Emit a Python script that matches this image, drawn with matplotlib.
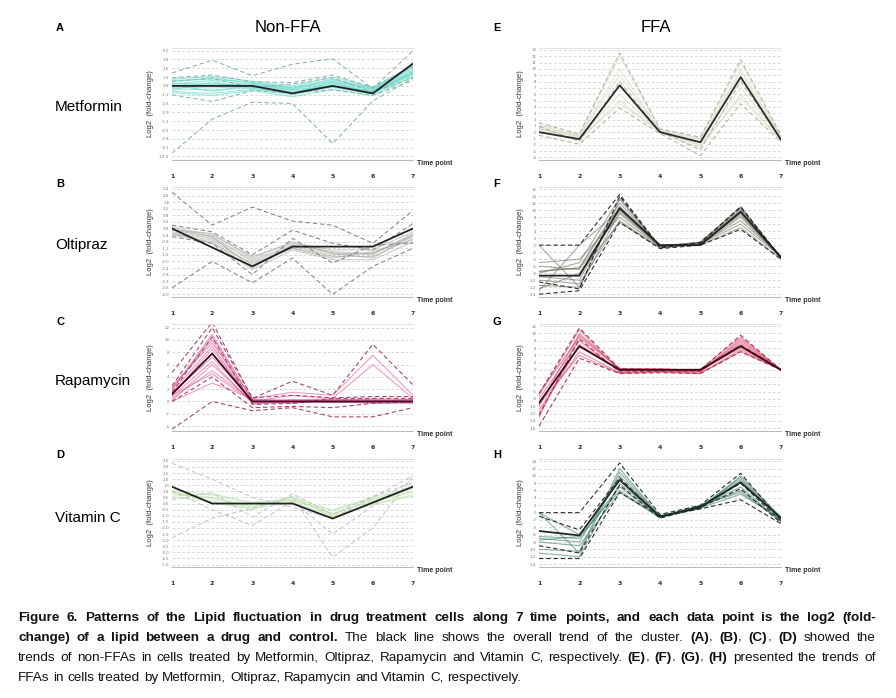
import numpy as np
import matplotlib
matplotlib.use("Agg")
import matplotlib.pyplot as plt

time_points = [1, 2, 3, 4, 5, 6, 7]
drugs = ["Metformin", "Oltipraz", "Rapamycin", "Vitamin C"]

# ---------- Non-FFA panels ----------
A_trend = [0.0, 0.0, 0.0, -1.1, 0.0, -1.1, 3.3]
A_bundle = [
    [0.3, 0.8, 0.2, -0.5, 0.6, -0.6, 2.2],
    [-0.4, -0.6, -0.3, -1.0, 0.2, -1.0, 1.8],
    [0.6, 1.2, 0.4, -0.3, 0.9, -0.4, 2.6],
    [-0.8, -1.1, -0.5, -1.3, -0.2, -1.2, 1.5],
    [0.1, 0.4, 0.0, -0.7, 0.4, -0.8, 2.0],
    [0.4, 0.2, 0.3, -0.4, 0.7, -0.5, 2.4],
    [-0.2, -0.3, -0.1, -0.9, 0.1, -0.9, 1.7],
    [0.8, 1.0, 0.5, -0.2, 1.0, -0.3, 2.8],
    [-0.6, 0.6, -0.4, -1.1, 0.5, -1.1, 2.1],
    [0.2, -0.8, 0.1, -0.6, -0.1, -0.7, 1.9],
    [1.0, 1.4, 0.7, 0.0, 1.3, -0.2, 3.0],
    [-1.0, -1.4, -0.7, -1.6, -0.5, -1.4, 1.3],
]
A_dashed = [
    [1.9, 3.8, 1.5, 3.2, 4.0, -0.4, 5.2],
    [-9.9, -4.9, -2.4, -2.6, -8.5, -2.2, 1.1],
    [1.2, 1.6, 0.6, 0.5, 1.6, -0.2, 2.9],
    [-1.3, -2.3, -0.7, -1.0, -0.6, -1.4, 0.8],
    [0.7, 1.1, -0.2, 0.3, 1.2, -0.9, 1.2],
]
A_ticks = [5.2, 3.9, 2.6, 1.3, 0.0, -1.3, -2.6, -3.9, -5.2, -6.5, -7.8, -9.1, -10.4]

B_trend = [0.0, -1.15, -2.3, -1.1, -1.1, -1.1, 0.0]
B_bundle = [
    [-0.1, -0.5, -1.9, -1.0, -1.5, -1.5, -0.4],
    [-0.3, -0.7, -2.2, -1.2, -1.7, -1.7, -0.6],
    [0.1, -0.4, -1.7, -0.9, -1.3, -1.3, -0.2],
    [-0.4, -0.8, -2.5, -1.3, -1.9, -1.9, -0.8],
    [-0.2, -0.6, -2.0, -1.1, -1.6, -1.5, -0.5],
    [0.0, -0.5, -2.4, -1.0, -1.4, -1.6, -0.3],
    [-0.3, -0.9, -2.1, -1.2, -1.8, -1.4, -0.7],
    [-0.1, -0.3, -1.8, -0.8, -1.5, -1.8, -0.4],
]
B_dashed = [
    [2.2, 0.2, 1.3, 0.45, 0.2, -0.9, 1.1],
    [-3.6, -2.0, -3.3, -1.8, -4.0, -2.3, -1.2],
    [0.2, -0.2, -1.6, -0.1, -0.9, -1.3, 0.3],
    [-0.5, -0.9, -2.8, -0.6, -2.1, -1.0, -0.9],
]
B_ticks = [2.4, 2.0, 1.6, 1.2, 0.8, 0.4, 0.0, -0.4, -0.8, -1.2, -1.6, -2.0, -2.4, -2.8, -3.2, -3.6, -4.0]

C_trend = [1.2, 7.8, 0.0, 0.0, 0.0, 0.0, 0.0]
C_bundle = [
    [0.5, 5.0, 0.2, 0.1, 0.3, 0.2, 0.1],
    [1.5, 9.0, -0.2, 0.0, -0.1, 0.0, -0.2],
    [2.0, 10.5, 0.3, 0.2, 0.2, 0.4, 0.3],
    [0.8, 6.5, -0.3, -0.2, 0.1, -0.1, 0.0],
    [1.8, 11.0, 0.1, 0.3, 0.4, 0.1, 0.2],
    [1.0, 8.5, 0.0, -0.1, 0.0, 0.3, -0.1],
    [2.5, 9.5, 0.4, 0.0, 0.2, -0.2, 0.4],
    [0.2, 6.0, -0.1, 0.2, -0.2, 0.0, 0.1],
    [1.3, 7.2, 0.2, -0.3, 0.3, 0.2, 0.3],
    [2.2, 10.0, -0.4, 0.1, 0.0, -0.3, -0.3],
    [0.0, 3.0, 0.5, 1.5, 1.0, 7.5, 1.0],
    [1.0, 4.5, 0.0, 1.0, 0.5, 6.0, 0.5],
]
C_dashed = [
    [4.7, 12.9, 0.5, 3.3, 1.0, 9.3, 2.7],
    [-4.5, 0.0, -1.5, -1.0, -2.5, -2.5, -1.0],
    [0.0, 4.0, -1.0, -0.8, -1.0, -0.3, 0.0],
    [2.5, 12.0, 0.6, 1.0, 0.6, 0.8, 0.8],
    [1.5, 10.5, -0.5, -0.3, 0.5, 0.5, 0.5],
]
C_ticks = [12, 10, 8, 6, 4, 2, 0, -2, -4]

D_trend = [1.38, 0.0, 0.0, 0.0, -1.23, 0.08, 1.38]
D_bundle = [
    [0.8, 0.5, -0.2, 0.3, -0.8, 0.2, 0.9],
    [1.1, 0.7, 0.0, 0.5, -0.6, 0.4, 1.2],
    [0.5, 0.2, -0.4, 0.1, -1.0, 0.0, 0.7],
    [0.9, 0.4, -0.3, 0.4, -0.9, 0.3, 1.0],
    [0.6, 0.8, 0.1, 0.2, -0.5, 0.5, 1.4],
    [1.0, 0.1, -0.5, 0.6, -1.1, -0.1, 0.6],
]
D_dashed = [
    [3.3, 2.0, 0.5, -0.3, -1.2, 0.5, 2.3],
    [-2.8, -1.2, -0.4, 0.6, -4.4, -2.0, 2.3],
    [1.0, -0.5, -1.8, 0.2, -2.5, -0.2, 2.0],
    [0.3, 0.9, -1.1, 0.8, -0.9, 0.6, 1.7],
]
D_ticks = [3.5, 3.0, 2.5, 2.0, 1.5, 1.0, 0.5, 0.0, -0.5, -1.0, -1.5, -2.0, -2.5, -3.0, -3.5, -4.0, -4.5, -5.0]

# ---------- FFA panels ----------
E_trend = [0.0, -1.1, 7.4, 0.0, -1.6, 8.7, -1.2]
E_bundle = [
    [0.8, -0.6, 10.0, 0.2, -1.2, 10.0, -0.8],
    [0.5, -0.8, 6.0, 0.1, -2.0, 7.0, -1.0],
    [1.2, -0.5, 12.0, 0.4, -1.0, 11.0, -0.6],
    [0.3, -1.2, 5.0, 0.0, -2.5, 6.0, -1.3],
    [1.0, -0.7, 9.0, 0.3, -1.5, 9.5, -0.9],
    [0.6, -1.0, 4.5, 0.2, -2.2, 5.5, -1.4],
]
E_dashed = [
    [1.5, -0.3, 12.5, 0.5, -0.8, 11.5, -0.5],
    [-0.5, -1.9, 3.8, -0.2, -3.7, 4.5, -1.6],
    [0.9, -1.5, 8.0, 0.1, -2.8, 8.0, -1.1],
]
E_ticks = list(range(13, -5, -1))

F_trend = [-8.7, -8.7, 10.5, 0.0, 0.0, 9.5, -3.5]
F_bundle = [
    [-5.0, -4.0, 8.0, -0.5, 0.5, 7.0, -3.2],
    [-6.0, -7.0, 9.0, -0.3, 0.3, 8.0, -3.4],
    [-7.5, -6.5, 12.0, -0.2, 0.6, 10.0, -3.6],
    [-9.0, -10.0, 11.0, -0.6, 0.2, 9.0, -3.8],
    [-10.0, -11.0, 7.0, -0.8, 0.4, 6.0, -3.3],
    [-11.5, -12.0, 13.0, -0.4, 0.8, 11.0, -3.7],
    [-12.5, -8.0, 6.5, -0.7, 0.1, 5.0, -3.9],
    [0.0, -12.0, 9.5, -0.1, 0.7, 8.5, -3.5],
    [-13.0, 0.0, 10.0, -0.5, 0.5, 9.5, -3.2],
    [-8.0, -5.0, 13.5, -0.3, 0.9, 10.5, -3.6],
    [-7.5, -6.5, 11.0, 0.0, 0.3, 10.0, -3.3],
]
F_dashed = [
    [0.0, 0.0, 14.5, -0.5, 0.5, 11.0, -3.5],
    [-14.0, -13.0, 6.5, -1.0, 0.0, 4.5, -4.0],
    [-10.5, -12.5, 14.0, -0.8, 0.8, 10.8, -3.8],
]
F_ticks = list(range(16, -15, -2))

G_trend = [-9.1, 6.5, 0.0, 0.0, 0.0, 6.5, 0.0]
G_bundle = [
    [-6.5, 9.0, 0.3, 0.2, -0.3, 8.0, 0.0],
    [-8.0, 8.0, -0.4, -0.2, -0.6, 7.5, 0.0],
    [-10.0, 10.0, 0.2, 0.0, 0.1, 9.0, 0.0],
    [-11.0, 5.0, -0.8, -0.5, -0.9, 5.5, 0.0],
    [-12.0, 7.0, 0.0, 0.3, -0.2, 6.0, 0.0],
    [-7.0, 11.0, -0.2, -0.3, -0.5, 8.5, 0.0],
    [-9.5, 4.0, -1.0, -0.6, -1.0, 5.0, 0.0],
    [-13.0, 9.5, 0.4, 0.1, 0.2, 7.0, 0.0],
]
G_dashed = [
    [-15.5, 3.2, -1.0, -0.8, -1.0, 5.0, 0.0],
    [-6.5, 11.5, 0.3, 0.2, 0.0, 9.5, 0.0],
    [-12.5, 8.5, -0.6, -0.4, -0.3, 6.8, 0.0],
]
G_ticks = list(range(12, -17, -2))

H_trend = [-5.0, -6.2, 8.9, -1.1, 1.5, 8.3, -1.5]
H_bundle = [
    [0.0, -11.0, 11.0, -1.0, 1.5, 9.0, -1.5],
    [-6.5, -7.0, 7.0, -1.2, 1.8, 6.0, -2.0],
    [-7.0, -8.0, 10.0, -0.9, 1.2, 8.0, -1.8],
    [-7.5, -6.5, 6.0, -1.3, 2.0, 5.5, -2.2],
    [-10.0, -10.5, 12.0, -1.0, 1.0, 10.0, -1.2],
    [-11.0, -12.0, 8.0, -1.1, 1.6, 7.0, -2.5],
    [-8.0, -9.0, 5.5, -1.4, 1.3, 5.0, -1.6],
    [0.0, -6.0, 9.0, -0.8, 1.7, 9.5, -1.4],
]
H_dashed = [
    [0.0, 0.0, 13.5, -0.5, 2.0, 10.7, -2.0],
    [-12.5, -12.5, 5.5, -1.0, 1.0, 3.5, -3.0],
    [-1.0, -4.7, 9.5, -1.2, 1.8, 8.0, -2.3],
    [-9.0, -11.0, 7.5, -1.5, 1.4, 6.5, -2.8],
]
H_ticks = list(range(14, -15, -2))

W, H = 896, 698
fig = plt.figure(figsize=(W / 100, H / 100), dpi=100)

label_font = ["Liberation Sans", "DejaVu Sans"]
cap_font = ["Liberation Sans", "DejaVu Sans"]

rows_px = [(48, 160), (187, 297), (324, 431), (459, 567)]
cols_px = [(172, 413), (539, 781)]


def px_axes(col, row):
    x0, x1 = cols_px[col]
    y0, y1 = rows_px[row]
    return fig.add_axes([x0 / W, 1 - y1 / H, (x1 - x0) / W, (y1 - y0) / H])


def panel(ax, trend, bundle, dashed, ticks, fmt, bcol, dcol, tcol,
          balpha=0.6, dlw=0.8):
    for t in ticks:
        ax.axhline(t, color="#c8c8c8", lw=0.5, ls=(0, (4, 3)), zorder=0)
    for s in bundle:
        ax.plot(time_points, s, color=bcol, lw=0.8, alpha=balpha, zorder=1)
    for s in dashed:
        ax.plot(time_points, s, color=dcol, lw=dlw, ls=(0, (4, 2.5)), zorder=2)
    ax.plot(time_points, trend, color=tcol, lw=1.3, zorder=3)
    step = abs(ticks[0] - ticks[1])
    ax.set_ylim(min(ticks) - 0.4 * step, max(ticks) + 0.3 * step)
    ax.set_xlim(1, 7)
    ax.set_yticks(ticks)
    ax.set_yticklabels([fmt.format(t) for t in ticks], fontsize=2.8, color="#777777")
    ax.set_xticks(time_points)
    ax.set_xticklabels([str(t) for t in time_points], fontsize=4.5,
                       fontweight="bold", color="#333333")
    ax.tick_params(axis="both", length=0)
    ax.tick_params(axis="x", pad=10)
    ax.tick_params(axis="y", pad=2)
    for side in ["left", "right"]:
        ax.spines[side].set_visible(False)
    ax.spines["top"].set_color("#dddddd")
    ax.spines["top"].set_linewidth(0.6)
    ax.spines["bottom"].set_color("#bbbbbb")
    ax.spines["bottom"].set_linewidth(0.8)
    ax.text(1.015, -0.03, "Time point", transform=ax.transAxes, fontsize=5,
            fontweight="bold", color="#333333", ha="left", va="center",
            family=label_font)


configs = [
    (0, 0, A_trend, A_bundle, A_dashed, A_ticks, "{:.1f}", "#5ed6c8", "#8fb8b2", "#222222"),
    (0, 1, B_trend, B_bundle, B_dashed, B_ticks, "{:.1f}", "#a8a8a2", "#8a8a8a", "#222222"),
    (0, 2, C_trend, C_bundle, C_dashed, C_ticks, "{:d}", "#e45c98", "#a64a6a", "#3d0a22"),
    (0, 3, D_trend, D_bundle, D_dashed, D_ticks, "{:.1f}", "#b6e2a4", "#c8c8c8", "#222222"),
    (1, 0, E_trend, E_bundle, E_dashed, E_ticks, "{:d}", "#d4d4c0", "#b4b4a6", "#2a2a2a"),
    (1, 1, F_trend, F_bundle, F_dashed, F_ticks, "{:d}", "#6e7768", "#2e2e2e", "#222222"),
    (1, 2, G_trend, G_bundle, G_dashed, G_ticks, "{:d}", "#d84470", "#b03456", "#3a0a16"),
    (1, 3, H_trend, H_bundle, H_dashed, H_ticks, "{:d}", "#3f7e66", "#2e2e2e", "#1a2a22"),
]

for col, row, tr, bu, da, ti, fmt, bc, dc, tc in configs:
    ax = px_axes(col, row)
    panel(ax, tr, bu, da, ti, fmt, bc, dc, tc)
    y0, y1 = rows_px[row]
    fig.text((150 if col == 0 else 520) / W, 1 - (y0 + y1) / 2 / H,
             "Log2  (fold-change)", rotation=90, fontsize=5.5, color="#333333",
             ha="center", va="center", family=label_font)

letters_left = ["A", "B", "C", "D"]
letters_right = ["E", "F", "G", "H"]
letter_y = [28, 184, 322, 455]
drug_y = [107, 245, 381, 518]
for i in range(4):
    fig.text(60 / W, 1 - letter_y[i] / H, letters_left[i], fontsize=8,
             fontweight="bold", ha="center", va="center", family=label_font)
    fig.text(497 / W, 1 - letter_y[i] / H, letters_right[i], fontsize=8,
             fontweight="bold", ha="center", va="center", family=label_font)
    fig.text(55 / W, 1 - drug_y[i] / H, drugs[i], fontsize=11,
             ha="left", va="center", family=label_font)

fig.text(288 / W, 1 - 28 / H, "Non-FFA", fontsize=12, ha="center", va="center",
         family=label_font)
fig.text(656 / W, 1 - 28 / H, "FFA", fontsize=12, ha="center", va="center",
         family=label_font)

# caption, justified word by word
caption_lines = [
    [("Figure 6. Patterns of the Lipid fluctuation in drug treatment cells along 7 time points, and each data point is the log2 (fold-", "bold")],
    [("change) of a lipid between a drug and control.", "bold"),
     (" The black line shows the overall trend of the cluster. ", "normal"),
     ("(A)", "bold"), (", ", "normal"), ("(B)", "bold"), (", ", "normal"),
     ("(C)", "bold"), (", ", "normal"), ("(D)", "bold"), (" showed the", "normal")],
    [("trends of non-FFAs in cells treated by Metformin, Oltipraz, Rapamycin and Vitamin C, respectively. ", "normal"),
     ("(E)", "bold"), (", ", "normal"), ("(F)", "bold"), (", ", "normal"),
     ("(G)", "bold"), (", ", "normal"), ("(H)", "bold"),
     (" presented the trends of", "normal")],
    [("FFAs in cells treated by Metformin, Oltipraz, Rapamycin and Vitamin C, respectively.", "normal")],
]
cap_y = [618, 638, 658, 678]
justify = [True, True, True, False]
cap_left, cap_right = 18, 876
cap_size = 9.7

renderer = fig.canvas.get_renderer()
space_t = fig.text(0, 0, "a a", fontsize=cap_size, family=cap_font)
a_t = fig.text(0, 0, "aa", fontsize=cap_size, family=cap_font)
space_w = (space_t.get_window_extent(renderer).width
           - a_t.get_window_extent(renderer).width)
space_t.remove()
a_t.remove()

for parts, yp, just in zip(caption_lines, cap_y, justify):
    words = []
    new_word = True
    for text, w in parts:
        for k, c in enumerate(text.split(" ")):
            if k > 0:
                new_word = True
            if c == "":
                continue
            if new_word:
                words.append([(c, w)])
                new_word = False
            else:
                words[-1].append((c, w))
    # build and measure
    objs = []
    widths = []
    for word in words:
        pieces = []
        ww = 0
        for c, w in word:
            t = fig.text(0, 1 - yp / H, c, fontsize=cap_size, fontweight=w,
                         family=cap_font, color="#111111", ha="left",
                         va="center")
            pw = t.get_window_extent(renderer).width
            pieces.append((t, pw))
            ww += pw
        objs.append(pieces)
        widths.append(ww)
    total = sum(widths)
    if just and len(words) > 1:
        gap = (cap_right - cap_left - total) / (len(words) - 1)
    else:
        gap = space_w
    x = cap_left
    for pieces, ww in zip(objs, widths):
        px = x
        for t, pw in pieces:
            t.set_x(px / W)
            px += pw
        x += ww + gap

fig.savefig("out.png", dpi=100, facecolor="white")
